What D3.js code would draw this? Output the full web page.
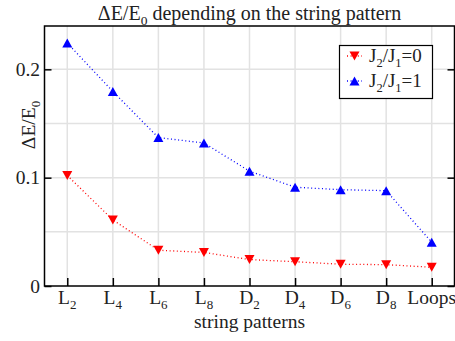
<!DOCTYPE html>
<html>
<head>
<meta charset="utf-8">
<script src="https://cdn.jsdelivr.net/npm/d3@7"></script>
<style>
  body { margin: 0; background: #fff; }
  svg { display: block; }
</style>
</head>
<body>
<svg id="canvas" width="455" height="341"></svg>
<script>
// chart values
var categories = ["L2", "L4", "L6", "L8", "D2", "D4", "D6", "D8", "Loops"];
var seriesJ0 = [0.102, 0.061, 0.033, 0.031, 0.0244, 0.0224, 0.0201, 0.0197, 0.0173];
var seriesJ1 = [0.2243, 0.1796, 0.137, 0.132, 0.106, 0.0912, 0.0889, 0.088, 0.0404];
var yTicks = [0, 0.1, 0.2];
var yGrid = [0.05, 0.1, 0.15, 0.2];

var FONT = "Liberation Serif";
var svg = d3.select("#canvas");

var LEFT = 44.5, RIGHT = 454.5, TOP = 26, BOTTOM = 286;

var x = d3.scalePoint().domain(categories).range([LEFT, RIGHT]).padding(0.5);
var y = d3.scaleLinear().domain([0, 0.24]).range([BOTTOM, TOP]);

// grid
svg.append("g").selectAll("line")
    .data(categories).enter().append("line")
    .attr("x1", function(d) { return x(d); })
    .attr("x2", function(d) { return x(d); })
    .attr("y1", TOP).attr("y2", BOTTOM)
    .attr("stroke", "#e2e2e2").attr("stroke-width", 1.5);
svg.append("g").selectAll("line")
    .data(yGrid).enter().append("line")
    .attr("x1", LEFT).attr("x2", RIGHT)
    .attr("y1", function(d) { return y(d); })
    .attr("y2", function(d) { return y(d); })
    .attr("stroke", "#e2e2e2").attr("stroke-width", 1.5);

// frame
svg.append("rect")
    .attr("x", LEFT).attr("y", TOP)
    .attr("width", RIGHT - LEFT).attr("height", BOTTOM - TOP)
    .attr("fill", "none").attr("stroke", "#000").attr("stroke-width", 1.5);

// axes (ticks pointing inward)
var xAxis = svg.append("g").attr("transform", "translate(0," + BOTTOM + ")")
    .call(d3.axisBottom(x).tickSizeInner(-8).tickSizeOuter(0).tickFormat(""));
var yAxis = svg.append("g").attr("transform", "translate(" + LEFT + ",0)")
    .call(d3.axisLeft(y).tickValues(yTicks).tickSizeInner(-7).tickSizeOuter(0).tickFormat(""));
var yAxisR = svg.append("g").attr("transform", "translate(" + RIGHT + ",0)")
    .call(d3.axisRight(y).tickValues(yTicks).tickSizeInner(-7).tickSizeOuter(0).tickFormat(""));
[xAxis, yAxis, yAxisR].forEach(function(a) {
    a.select(".domain").remove();
    a.selectAll(".tick line").attr("stroke", "#000").attr("stroke-width", 1.5);
});

var labels = svg.append("g").attr("font-family", FONT).attr("fill", "#222");

// y tick labels
labels.append("g").selectAll("text")
    .data(yTicks).enter().append("text")
    .attr("x", 40).attr("y", function(d) { return y(d) + 6.5; })
    .attr("text-anchor", "end").attr("font-size", "19.5px")
    .text(function(d) { return d === 0 ? "0" : d3.format(".1f")(d); });

// x tick labels with subscripts
var xl = labels.append("g").selectAll("text")
    .data(categories).enter().append("text")
    .attr("x", function(d) { return x(d); })
    .attr("y", 304)
    .attr("text-anchor", "middle").attr("font-size", "19.5px");
xl.each(function(d) {
    var t = d3.select(this);
    var m = /^([A-Z])(\d)$/.exec(d);
    if (m) {
        t.append("tspan").text(m[1]);
        t.append("tspan").attr("dy", 5).attr("font-size", "13px").text(m[2]);
    } else {
        t.text(d);
    }
});

// axis titles
labels.append("text")
    .attr("x", 249.5).attr("y", 328)
    .attr("text-anchor", "middle").attr("font-size", "19.5px")
    .text("string patterns");

var yl = labels.append("text")
    .attr("transform", "translate(35,125) rotate(-90)")
    .attr("text-anchor", "middle").attr("font-size", "19.5px");
yl.append("tspan").text("\u0394E/E");
yl.append("tspan").attr("dy", 5).attr("font-size", "13px").text("0");

var title = labels.append("text")
    .attr("x", 249.5).attr("y", 20)
    .attr("text-anchor", "middle").attr("font-size", "20px");
title.append("tspan").text("\u0394E/E");
title.append("tspan").attr("dy", 5).attr("font-size", "13.5px").text("0");
title.append("tspan").attr("dy", -5).text(" depending on the string pattern");

// series
var triUp = "M-5,4.5L5,4.5L0,-4.5Z";
var triDown = "M-5,-4.5L5,-4.5L0,4.5Z";
var series = [
    { name: "0", values: seriesJ0, color: "#ff0000", shape: triDown },
    { name: "1", values: seriesJ1, color: "#0000ff", shape: triUp }
];

var line = d3.line()
    .x(function(d, i) { return x(categories[i]); })
    .y(function(d) { return y(d); });

series.forEach(function(s) {
    svg.append("path")
        .datum(s.values)
        .attr("d", line)
        .attr("fill", "none")
        .attr("stroke", s.color)
        .attr("stroke-width", 1.3)
        .attr("stroke-dasharray", "1,2.6");
    svg.append("g").selectAll("path")
        .data(s.values).enter().append("path")
        .attr("d", s.shape)
        .attr("transform", function(d, i) { return "translate(" + x(categories[i]) + "," + y(d) + ")"; })
        .attr("fill", s.color);
});

// legend
var legend = svg.append("g");
legend.append("rect")
    .attr("x", 339.5).attr("y", 45.5).attr("width", 93).attr("height", 53)
    .attr("fill", "#fff").attr("stroke", "#000").attr("stroke-width", 1.2);
series.forEach(function(s, i) {
    var ly = 56 + i * 25;
    legend.append("line")
        .attr("x1", 347).attr("x2", 362).attr("y1", ly).attr("y2", ly)
        .attr("stroke", s.color).attr("stroke-width", 1.3).attr("stroke-dasharray", "1,2.6");
    legend.append("path")
        .attr("d", s.shape)
        .attr("transform", "translate(354.5," + ly + ")")
        .attr("fill", s.color);
    var t = legend.append("text")
        .attr("x", 369).attr("y", ly + 6).attr("font-size", "19px")
        .attr("font-family", FONT).attr("fill", "#222");
    t.append("tspan").text("J");
    t.append("tspan").attr("dy", 5).attr("font-size", "12.5px").text("2");
    t.append("tspan").attr("dy", -5).text("/J");
    t.append("tspan").attr("dy", 5).attr("font-size", "12.5px").text("1");
    t.append("tspan").attr("dy", -5).text("=" + s.name);
});
</script>
</body>
</html>
